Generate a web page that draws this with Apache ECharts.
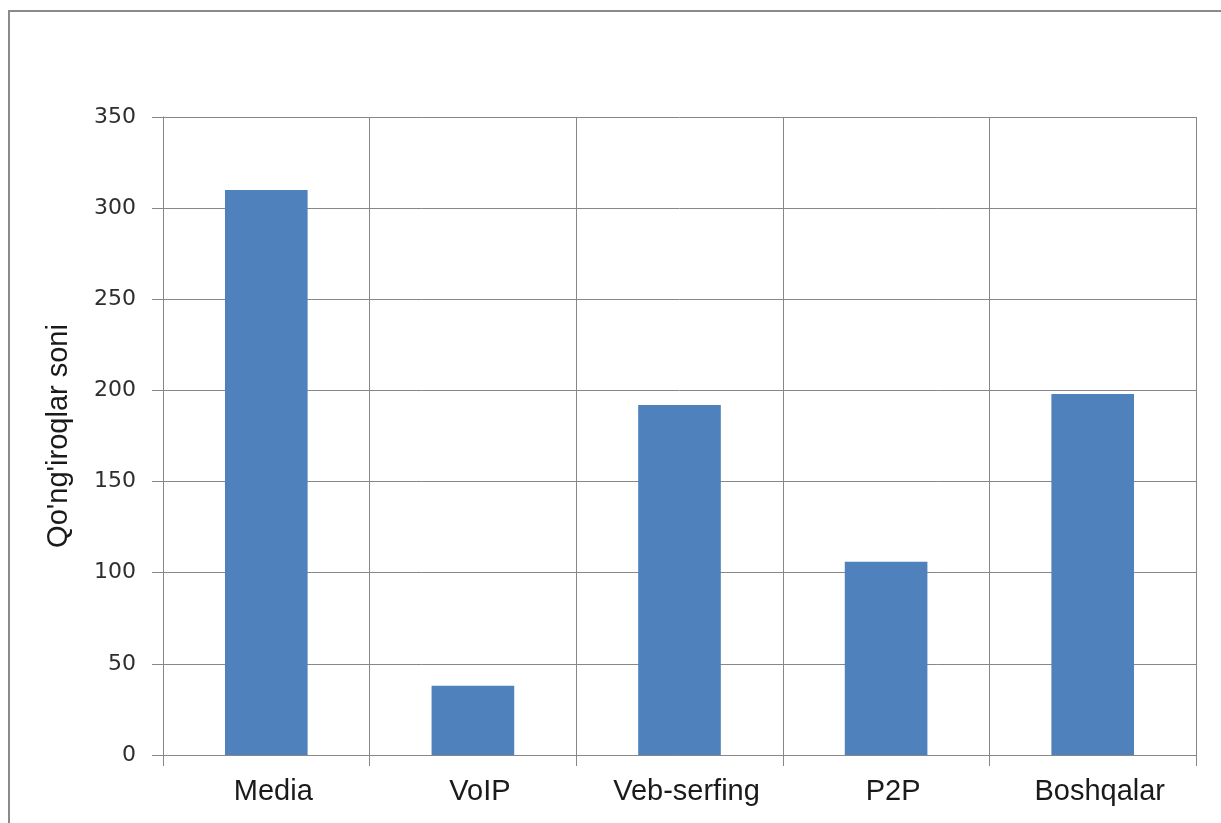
<!DOCTYPE html>
<html>
	<head>
		<meta charset="utf-8">
		<title></title>
		<script src="https://cdn.jsdelivr.net/npm/echarts@6/dist/echarts.min.js"></script>
		<style>
			body { margin: 0; background: #fff; }
		</style>
	</head>
	<body>
		<div id="main" style="width: 1221px; height: 823px;"></div>
		<script type="text/javascript">
			var categories = ['Media', 'VoIP', 'Veb-serfing', 'P2P', 'Boshqalar'];
			var values = [310, 38, 192, 106, 198];
			var yTitle = "Qo'ng'iroqlar soni";

			var myChart = echarts.init(document.getElementById("main"));
			var gridColor = '#878787';
			option = {
			  animation: false,
			  backgroundColor: '#fff',
			  graphic: [
			    {
			      type: 'rect',
			      shape: { x: 9, y: 11, width: 1240, height: 840 },
			      style: { fill: 'none', stroke: '#8a8a8a', lineWidth: 2 }
			    }
			  ],
			  grid: { left: 163, right: 25, top: 117, bottom: 68 },
			  xAxis: {
			    type: 'category',
			    data: categories,
			    axisLine: { lineStyle: { color: gridColor, width: 1 } },
			    axisTick: { show: true, length: 11, lineStyle: { color: gridColor } },
			    splitLine: { show: true, lineStyle: { color: gridColor, width: 1 } },
			    axisLabel: {
			      margin: 22,
			      padding: [0, 0, 0, 14],
			      color: '#1a1a1a',
			      fontFamily: 'Liberation Sans',
			      fontSize: 29
			    }
			  },
			  yAxis: {
			    type: 'value',
			    min: 0,
			    max: 350,
			    interval: 50,
			    name: yTitle,
			    nameLocation: 'middle',
			    nameGap: 90,
			    nameTextStyle: {
			      color: '#1a1a1a',
			      fontFamily: 'Liberation Sans',
			      fontSize: 29
			    },
			    axisLine: { show: true, lineStyle: { color: gridColor, width: 1 } },
			    axisTick: { show: true, length: 11, lineStyle: { color: gridColor } },
			    splitLine: { show: true, lineStyle: { color: gridColor, width: 1 } },
			    axisLabel: {
			      margin: 27,
			      color: '#2e2e2e',
			      fontFamily: 'DejaVu Sans',
			      fontSize: 22
			    }
			  },
			  series: [
			    {
			      type: 'bar',
			      data: values,
			      barWidth: '40%',
			      itemStyle: { color: '#4f81bd' }
			    }
			  ]
			};
			myChart.setOption(option);
		</script>
	</body>
</html>
